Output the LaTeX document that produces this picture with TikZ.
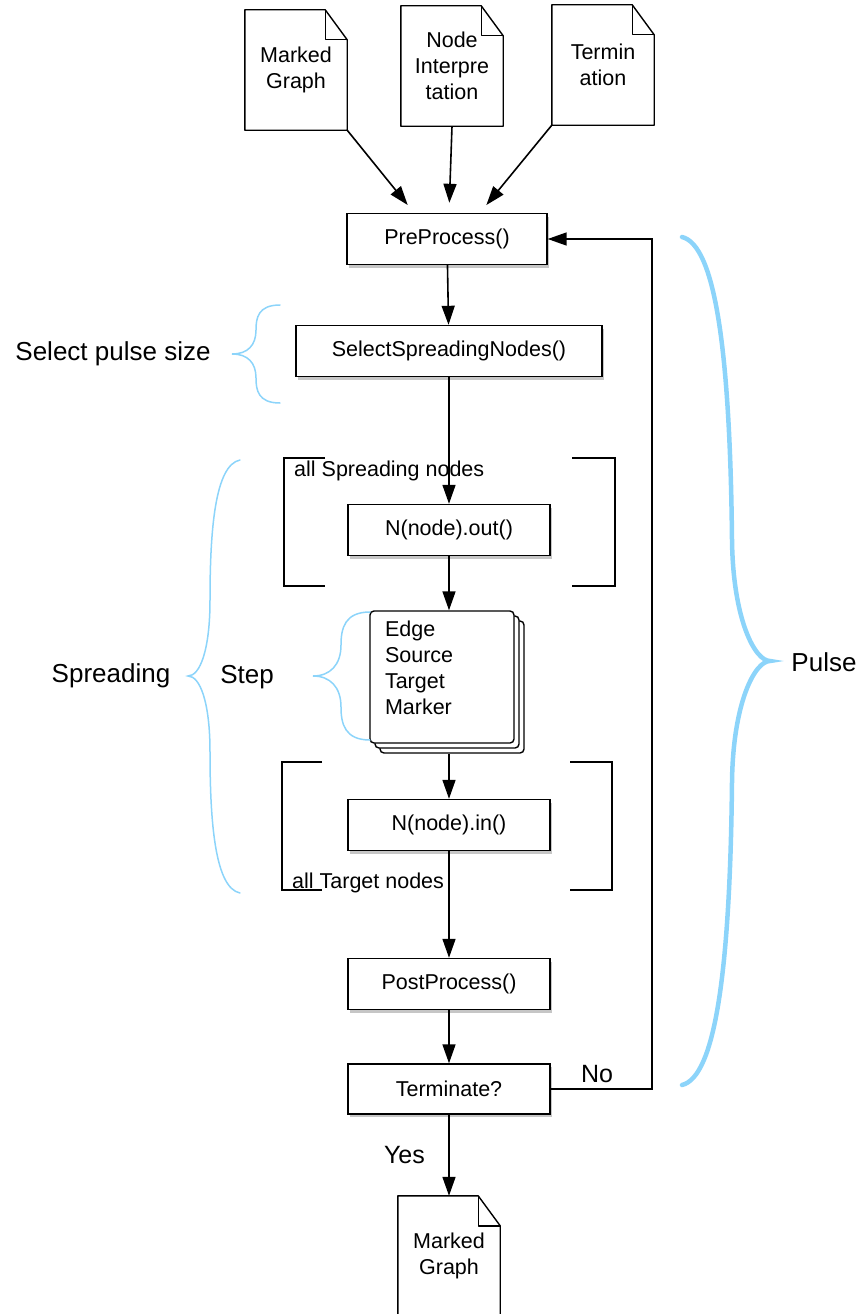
\documentclass[tikz,border=0pt]{standalone}
\usepackage{fontspec}
\setmainfont{Liberation Sans}
\usepackage{xcolor}
\usepackage{tikz}
\usetikzlibrary{positioning,arrows.meta,shadows}
\definecolor{bracecol}{RGB}{140,212,250}

\begin{document}
\begin{tikzpicture}[
      x=1pt, y=-1pt,
      font=\fontsize{21.5}{26}\selectfont,
      box/.style={draw, line width=1.4pt, fill=white, minimum height=51pt, minimum width=202pt, align=center,
        drop shadow={shadow xshift=2pt, shadow yshift=-3pt, opacity=.45}},
      doc/.style={minimum width=102pt, minimum height=120pt, align=center, inner sep=0pt},
      docline/.style={line width=1.4pt, line join=round},
      stack/.style={draw, line width=1.4pt, fill=white, rounded corners=4pt, minimum width=144pt, minimum height=132pt,
        text width=114pt, align=left,
        copy shadow={shadow xshift=10pt, shadow yshift=-10pt}, copy shadow={shadow xshift=5pt, shadow yshift=-5pt}},
      arrow/.style={-{Triangle[length=19pt,width=13pt]}, line width=1.6pt},
      bracket/.style={line width=1.6pt},
      curly/.style={draw=bracecol, line width=1.5pt, line cap=round},
      biglabel/.style={font=\fontsize{26}{30}\selectfont}
    ]
    \useasboundingbox (0,0) rectangle (863,1314);

    % files
    \node[doc] (mg)  at (296,70)   {Marked\\Graph};
    \node[doc] (ni)  at (452,66)   {Node\\Interpre\\tation};
    \node[doc] (tm)  at (603,65)   {Termin\\ation};
    \node[doc] (res) at (449,1256) {Marked\\Graph};
    \foreach \d in {mg,ni,tm,res} {
      \draw[docline] (\d.north west) -- ([xshift=-22pt]\d.north east) -- ([yshift=-30pt]\d.north east)
        -- (\d.south east) -- (\d.south west) -- cycle;
      \draw[docline] ([xshift=-22pt]\d.north east) |- ([yshift=-30pt]\d.north east);
    }

    % main flow
    \node[box, minimum width=200pt] (pre)  at (447,239)  {PreProcess()};
    \node[box, minimum width=306pt] (sel)  at (449,351)  {SelectSpreadingNodes()};
    \node[box]                      (nout) at (449,530)  {N(node).out()};
    \node[stack]                    (edges) at (442,677) {Edge\\Source\\Target\\Marker\\[-8pt]\mbox{}};
    \node[box]                      (nin)  at (449,825)  {N(node).in()};
    \node[box]                      (post) at (449,984)  {PostProcess()};
    \node[box, minimum height=50pt] (term) at (449,1089) {Terminate?};

    % loops
    \node[anchor=west, inner sep=0pt] (spread) at (294,471) {all Spreading nodes};
    \node[anchor=west, inner sep=0pt] (target) at (292,883) {all Target nodes};
    \draw[bracket] (325,458) -| (284,586) -- (325,586);
    \draw[bracket] (572,458) -| (615,586) -- (572,586);
    \draw[bracket] (322,762) -| (282,890) -- (322,890);
    \draw[bracket] (570,762) -| (612,890) -- (570,890);

    \draw[arrow, shorten >=10pt] (mg.south east) -- ([xshift=-33pt]pre.north);
    \draw[arrow, shorten >=10pt] (ni.south) -- ([xshift=2pt]pre.north);
    \draw[arrow, shorten >=10pt] (tm.south west) -- ([xshift=33pt]pre.north);
    \draw[arrow] (pre) -- (sel);
    \draw[arrow] (sel) -- (nout);
    \draw[arrow] (nout.south) -- (nout.south |- edges.north);
    \draw[arrow, shorten <=10pt] (edges.south -| nin) -- (nin);
    \draw[arrow] (nin) -- (post);
    \draw[arrow] (post) -- (term);
    \draw[arrow] (term) -- node[left=20pt, font=\fontsize{25}{30}\selectfont] (yes) {Yes} (res);
    \coordinate (back) at (652,1089);
    \draw[arrow] (term.east) -- (back) |- (pre.east);
    \node[font=\fontsize{25}{30}\selectfont] (no) at (597,1074) {No};

    % braces
    \draw[curly] (280,305) .. controls (258,305) and (256,318) .. (256,330)
      .. controls (256,345) and (248,354) .. (232,354) .. controls (248,354) and (256,363) .. (256,378)
      .. controls (256,390) and (258,403) .. (280,403);
    \node[biglabel] (pulsesize) at (113,354) {Select pulse size};

    \draw[curly] (240,460) .. controls (215,465) and (210,530) .. (210,600)
      .. controls (210,650) and (200,676) .. (188,676) .. controls (200,676) and (210,702) .. (210,752)
      .. controls (210,822) and (215,888) .. (240,893);
    \node[biglabel] (spreading) at (111,676) {Spreading};

    \draw[curly] (370,612) .. controls (345,612) and (341,628) .. (341,645)
      .. controls (341,665) and (330,676) .. (313,676) .. controls (330,676) and (341,687) .. (341,707)
      .. controls (341,724) and (345,740) .. (370,740);
    \node[biglabel] (steplbl) at (247,677) {Step};

    \draw[curly, line width=4.5pt] (682,237) .. controls (715,245) and (730,350) .. (732,540)
      .. controls (733,620) and (755,661) .. (770,661) .. controls (755,661) and (733,702) .. (732,782)
      .. controls (730,972) and (715,1077) .. (682,1085);
    \node[biglabel] (pulse) at (824,662) {Pulse};
  \end{tikzpicture}
\end{document}
